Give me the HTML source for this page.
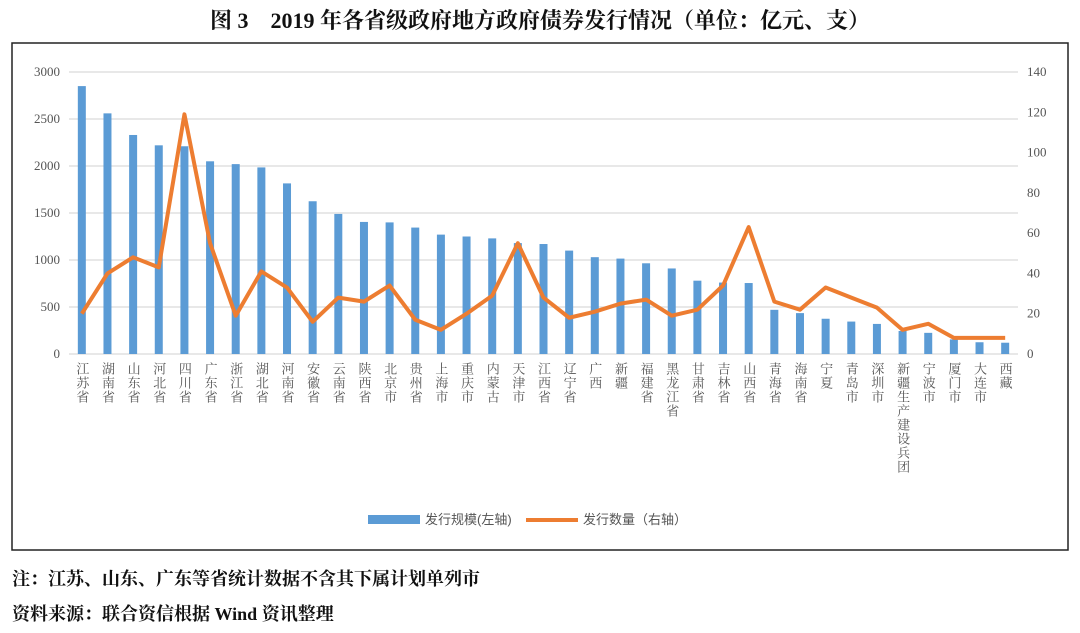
<!DOCTYPE html>
<html><head><meta charset="utf-8">
<style>
body{margin:0;width:1080px;height:633px;background:#fff;overflow:hidden;font-family:"Liberation Serif","Noto Serif CJK SC",serif;}
.title{position:absolute;left:0;top:4px;width:1080px;text-align:center;font-size:22px;font-weight:bold;color:#111;}
.note{position:absolute;left:12px;font-size:18px;color:#111;font-weight:bold;}
</style></head>
<body>
<div class="title">图 3　2019 年各省级政府地方政府债券发行情况（单位：亿元、支）</div>
<svg id="chart" width="1080" height="560" style="position:absolute;left:0;top:0">
<rect x="12" y="43" width="1056" height="507" fill="#fff" stroke="#222" stroke-width="1.5"/>
<g id="grid"></g><g id="bars"></g><g id="line"></g><g id="axes"></g>
<g>
<rect x="368" y="515" width="52" height="9" fill="#5b9bd5"/>
<text x="425" y="524" font-size="13" fill="#555" font-family="Liberation Sans,Noto Sans CJK SC,sans-serif">发行规模(左轴)</text>
<line x1="526" y1="520" x2="578" y2="520" stroke="#ed7d31" stroke-width="4"/>
<text x="583" y="524" font-size="13" fill="#555" font-family="Liberation Sans,Noto Sans CJK SC,sans-serif">发行数量（右轴）</text>
</g>
</svg>
<div class="note" style="top:565px">注：江苏、山东、广东等省统计数据不含其下属计划单列市</div>
<div class="note" style="top:600px">资料来源：联合资信根据 Wind 资讯整理</div>
<script>
const categories=["江苏省","湖南省","山东省","河北省","四川省","广东省","浙江省","湖北省","河南省","安徽省","云南省","陕西省","北京市","贵州省","上海市","重庆市","内蒙古","天津市","江西省","辽宁省","广西","新疆","福建省","黑龙江省","甘肃省","吉林省","山西省","青海省","海南省","宁夏","青岛市","深圳市","新疆生产建设兵团","宁波市","厦门市","大连市","西藏"];
const scaleValues=[2850,2560,2330,2220,2210,2050,2020,1985,1815,1625,1490,1405,1400,1345,1270,1250,1230,1180,1170,1100,1030,1015,965,910,780,760,755,470,435,375,345,320,245,225,155,125,120];
const countValues=[20,40,48,43,119,55,19,41,33,16,28,26,34,17,12,20,29,55,28,18,21,25,27,19,22,34,63,26,22,33,28,23,12,15,8,8,8];
const leftTicks=[0,500,1000,1500,2000,2500,3000];
const rightTicks=[0,20,40,60,80,100,120,140];
const NS="http://www.w3.org/2000/svg";
const yTop=72,yBot=354,px0=69,px1=1018;
const yL=v=>yBot-(v/3000)*(yBot-yTop);
const yR=v=>yBot-(v/140)*(yBot-yTop);
const step=(px1-px0)/categories.length;
const xC=i=>px0+step*(i+0.5);
function mk(t,a,p){const e=document.createElementNS(NS,t);for(const k in a)e.setAttribute(k,a[k]);p.appendChild(e);return e;}
const G=document.getElementById('grid'),B=document.getElementById('bars'),L=document.getElementById('line'),A=document.getElementById('axes');
leftTicks.forEach(v=>{
 const y=yL(v);
 const ln=mk('line',{x1:px0,x2:px1,y1:y,y2:y,stroke:'#d9d9d9','stroke-width':1.3},G);
 
 
 const t=mk('text',{x:60,y:y+4,'text-anchor':'end','font-size':13,fill:'#555'},A);
 t.textContent=v;
 
 
});
rightTicks.forEach(v=>{
 const t=mk('text',{x:1027,y:yR(v)+4,'font-size':13,fill:'#555'},A);
 t.textContent=v;
 
 
});
categories.forEach((c,i)=>{
 const y=yL(scaleValues[i]);
 const r=mk('rect',{x:xC(i)-4,y:y,width:8,height:yBot-y,fill:'#5b9bd5'},B);
 
 
 const t=mk('text',{x:xC(i),y:362,'font-size':13,fill:'#555','writing-mode':'tb','font-family':'Liberation Serif,Noto Serif CJK SC,serif','letter-spacing':'1'},A);
 t.textContent=c;
 
 
});
const pl=mk('polyline',{points:countValues.map((v,i)=>xC(i)+','+yR(v)).join(' '),fill:'none',stroke:'#ed7d31','stroke-width':4,'stroke-linejoin':'round'},L);


</script>
</body></html>
